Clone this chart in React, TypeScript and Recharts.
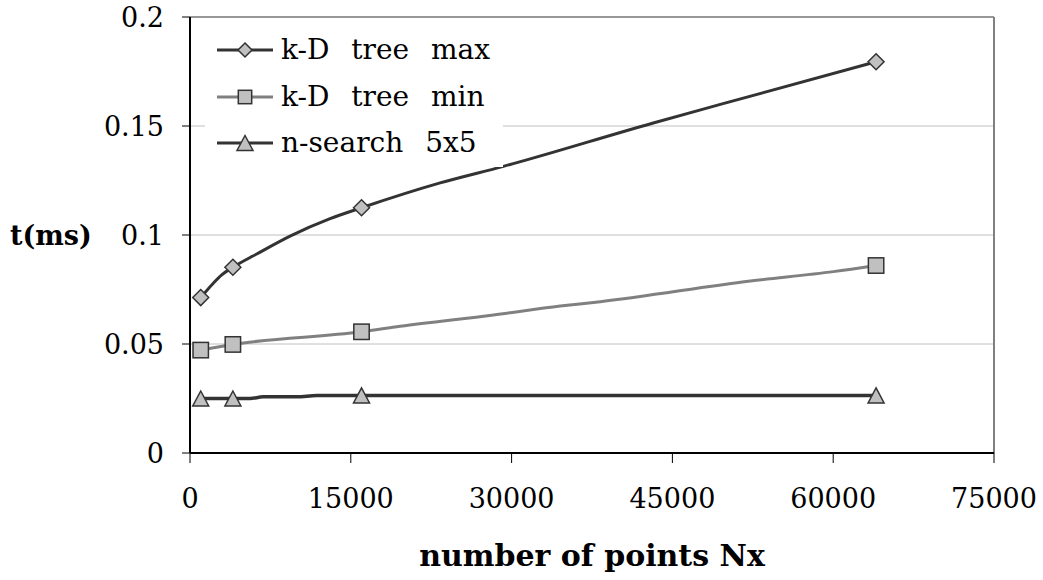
import React from 'react';
import {
  ComposedChart,
  Line,
  Scatter,
  XAxis,
  YAxis,
  CartesianGrid,
  ReferenceLine,
  Legend,
  Label,
} from 'recharts';

// Marker positions (number of points) and measured times (ms)
const markerX = [1000, 4000, 16000, 64000];
const treeMaxAtMarkers = [0.0713, 0.0852, 0.1125, 0.1795];
const treeMinAtMarkers = [0.0472, 0.0498, 0.0556, 0.086];
const nSearchAtMarkers = [0.025, 0.025, 0.0264, 0.0264];

// Curves
const treeMaxCurveX = [1000, 2175, 2959, 4000, 6226, 9335, 13068, 16000, 23335, 29244, 43217, 49471, 64000];
const treeMaxCurveY = [0.0713, 0.0779, 0.0817, 0.0852, 0.0913, 0.0995, 0.1075, 0.1125, 0.1239, 0.1315, 0.1514, 0.1599, 0.1795];
const treeMinCurveX = [1000, 4000, 16000, 19602, 28310, 34536, 38270, 52271, 60019, 64000];
const treeMinCurveY = [0.0472, 0.0498, 0.0556, 0.0581, 0.0633, 0.0674, 0.0694, 0.0789, 0.0832, 0.086];
const nSearchCurveX = [1000, 4000, 5600, 6814, 9959, 11826, 16000, 64000];
const nSearchCurveY = [0.025, 0.025, 0.025, 0.02575, 0.02575, 0.0264, 0.0264, 0.0264];

const seriesNames = ['k-D tree max', 'k-D tree min', 'n-search 5x5'];
const xTicks = [0, 15000, 30000, 45000, 60000, 75000];
const yTicks = [0, 0.05, 0.1, 0.15, 0.2];
const xTitle = 'number of points Nx';
const yTitle = 't(ms)';

const pairs = (xs: number[], ys: number[]) => xs.map((x, i) => ({ x, y: ys[i] }));

const treeMaxCurve = pairs(treeMaxCurveX, treeMaxCurveY);
const treeMinCurve = pairs(treeMinCurveX, treeMinCurveY);
const nSearchCurve = pairs(nSearchCurveX, nSearchCurveY);
const treeMaxMarks = pairs(markerX, treeMaxAtMarkers);
const treeMinMarks = pairs(markerX, treeMinAtMarkers);
const nSearchMarks = pairs(markerX, nSearchAtMarkers);

const FONT = "'DejaVu Serif', serif";
const FILL = '#c0c0c0';
const EDGE = '#333333';
const DARK = '#333333';
const GRAY = '#808080';

const Diamond = ({ cx, cy, r = 8 }: any) => (
  <path
    d={`M${cx},${cy - r} L${cx + r},${cy} L${cx},${cy + r} L${cx - r},${cy} Z`}
    fill={FILL}
    stroke={EDGE}
    strokeWidth={1.5}
  />
);
const Square = ({ cx, cy, r = 7.7 }: any) => (
  <rect x={cx - r} y={cy - r} width={2 * r} height={2 * r} fill={FILL} stroke={EDGE} strokeWidth={1.5} />
);
const Triangle = ({ cx, cy, r = 8 }: any) => (
  <path
    d={`M${cx},${cy - r + 0.5} L${cx + r},${cy + r - 0.5} L${cx - r},${cy + r - 0.5} Z`}
    fill={FILL}
    stroke={EDGE}
    strokeWidth={1.5}
  />
);

const legendItems = [
  { name: seriesNames[0], color: DARK, Marker: Diamond, mr: 7 },
  { name: seriesNames[1], color: GRAY, Marker: Square, mr: 6.7 },
  { name: seriesNames[2], color: DARK, Marker: Triangle, mr: 8 },
];

const renderLegend = () => (
  <div
    style={{
      background: '#fff',
      width: 298,
      padding: '0 0 0 12px',
      boxSizing: 'border-box',
      fontFamily: FONT,
      fontSize: 28,
      color: '#000',
    }}
  >
    {legendItems.map((it) => (
      <div key={it.name} style={{ display: 'flex', alignItems: 'center', height: 46.5 }}>
        <svg width={58} height={24} style={{ display: 'block' }}>
          <line x1={0} y1={12} x2={56} y2={12} stroke={it.color} strokeWidth={3} />
          <it.Marker cx={28} cy={12} r={it.mr} />
        </svg>
        <span style={{ whiteSpace: 'pre', wordSpacing: 13, marginLeft: 6, lineHeight: '30px' }}>{it.name}</span>
      </div>
    ))}
  </div>
);

const YTitle = (props: any) => {
  const vb = props.viewBox || {};
  return (
    <text x={10} y={(vb.y || 0) + (vb.height || 0) / 2 + 10} fontFamily={FONT} fontSize={27} fontWeight="bold" fill="#000">
      {yTitle}
    </text>
  );
};

const XTitle = (props: any) => {
  const vb = props.viewBox || {};
  return (
    <text x={(vb.x || 0) + (vb.width || 0) / 2} y={566} textAnchor="middle" fontFamily={FONT} fontSize={30} fontWeight="bold" fill="#000">
      {xTitle}
    </text>
  );
};

const tickStyle = { fontFamily: FONT, fontSize: 27, fill: '#000' };

export default function App() {
  return (
    <div style={{ position: 'absolute', left: 0, top: 0, width: 1043, height: 580, background: '#fff' }}>
      <ComposedChart width={1043} height={580} margin={{ top: 17, right: 49, bottom: 0, left: 0 }}>
        <CartesianGrid vertical={false} stroke="#c0c0c0" strokeWidth={1} />
        <XAxis
          type="number"
          dataKey="x"
          domain={[0, 75000]}
          ticks={xTicks}
          allowDataOverflow
          height={127}
          tickSize={10}
          tickMargin={26}
          axisLine={{ stroke: '#000', strokeWidth: 2 }}
          tickLine={{ stroke: '#000', strokeWidth: 1 }}
          tick={tickStyle}
          interval={0}
        >
          <Label content={<XTitle />} />
        </XAxis>
        <YAxis
          type="number"
          dataKey="y"
          domain={[0, 0.2]}
          ticks={yTicks}
          allowDataOverflow
          width={190}
          tickSize={8}
          tickMargin={18}
          axisLine={{ stroke: '#000', strokeWidth: 2 }}
          tickLine={{ stroke: '#000', strokeWidth: 1 }}
          tick={tickStyle}
          interval={0}
        >
          <Label content={<YTitle />} />
        </YAxis>
        <ReferenceLine y={0.2} stroke={GRAY} strokeWidth={1.5} />
        <ReferenceLine x={75000} stroke={GRAY} strokeWidth={2} />
        <Legend
          layout="vertical"
          align="center"
          verticalAlign="middle"
          wrapperStyle={{ left: 205, top: 27, width: 298 }}
          content={renderLegend}
        />
        <Line data={treeMaxCurve} dataKey="y" type="monotone" stroke={DARK} strokeWidth={3} dot={false} activeDot={false} isAnimationActive={false} legendType="none" />
        <Line data={treeMinCurve} dataKey="y" type="monotone" stroke={GRAY} strokeWidth={3} dot={false} activeDot={false} isAnimationActive={false} legendType="none" />
        <Line data={nSearchCurve} dataKey="y" type="monotone" stroke={DARK} strokeWidth={3.5} dot={false} activeDot={false} isAnimationActive={false} legendType="none" />
        <Scatter data={treeMaxMarks} dataKey="y" isAnimationActive={false} shape={(p: any) => <Diamond cx={p.cx} cy={p.cy} r={8} />} />
        <Scatter data={treeMinMarks} dataKey="y" isAnimationActive={false} shape={(p: any) => <Square cx={p.cx} cy={p.cy} r={7.7} />} />
        <Scatter data={nSearchMarks} dataKey="y" isAnimationActive={false} shape={(p: any) => <Triangle cx={p.cx} cy={p.cy} r={8} />} />
      </ComposedChart>
    </div>
  );
}
